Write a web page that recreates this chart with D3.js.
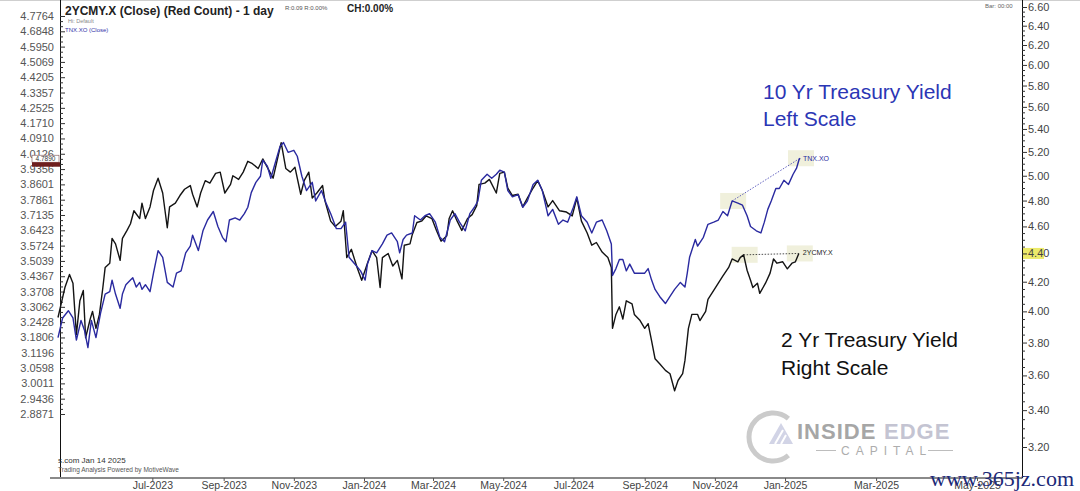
<!DOCTYPE html>
<html><head><meta charset="utf-8">
<script src="https://cdn.jsdelivr.net/npm/d3@7"></script>
<style>
body{margin:0;background:#fff}
svg{display:block;font-family:"Liberation Sans",Arial,sans-serif}
</style>
</head><body>
<svg id="chart" width="1080" height="491"></svg>
<script>
// ---------- DATA ----------
const leftTickValues = [4.7764,4.6848,4.5950,4.5069,4.4205,4.3357,4.2525,4.1710,4.0910,4.0126,3.9356,3.8601,3.7861,3.7135,3.6423,3.5724,3.5039,3.4367,3.3708,3.3062,3.2428,3.1806,3.1196,3.0598,3.0011,2.9436,2.8871];
const rightTickValues = [6.60,6.40,6.20,6.00,5.80,5.60,5.40,5.20,5.00,4.80,4.60,4.40,4.20,4.00,3.80,3.60,3.40,3.20];
const monthTicks = ["2023-07-01","2023-09-01","2023-11-01","2024-01-01","2024-03-01","2024-05-01","2024-07-01","2024-09-01","2024-11-01","2025-01-01","2025-03-01","2025-05-01"];

// 2YCMY.X (2 Yr Treasury Yield, right scale)
const twoYrDates = ["2023-04-10","2023-04-16","2023-04-20","2023-04-23","2023-04-26","2023-04-29","2023-05-02","2023-05-04","2023-05-08","2023-05-10","2023-05-13","2023-05-16","2023-05-19","2023-05-21","2023-05-25","2023-05-27","2023-05-30","2023-06-03","2023-06-05","2023-06-09","2023-06-12","2023-06-15","2023-06-20","2023-06-22","2023-06-25","2023-06-29","2023-07-02","2023-07-06","2023-07-10","2023-07-14","2023-07-16","2023-07-21","2023-07-25","2023-07-29","2023-08-03","2023-08-05","2023-08-09","2023-08-12","2023-08-16","2023-08-20","2023-08-25","2023-08-29","2023-09-02","2023-09-07","2023-09-09","2023-09-14","2023-09-18","2023-09-22","2023-09-26","2023-10-01","2023-10-05","2023-10-09","2023-10-14","2023-10-18","2023-10-21","2023-10-25","2023-10-29","2023-11-02","2023-11-07","2023-11-10","2023-11-14","2023-11-17","2023-11-21","2023-11-26","2023-11-28","2023-12-03","2023-12-07","2023-12-12","2023-12-14","2023-12-17","2023-12-21","2023-12-26","2023-12-30","2024-01-04","2024-01-08","2024-01-12","2024-01-15","2024-01-17","2024-01-22","2024-01-26","2024-01-30","2024-02-03","2024-02-05","2024-02-10","2024-02-12","2024-02-16","2024-02-20","2024-02-24","2024-02-29","2024-03-04","2024-03-08","2024-03-13","2024-03-15","2024-03-18","2024-03-22","2024-03-26","2024-03-31","2024-04-04","2024-04-08","2024-04-10","2024-04-15","2024-04-19","2024-04-25","2024-04-28","2024-05-02","2024-05-05","2024-05-09","2024-05-14","2024-05-18","2024-05-22","2024-05-27","2024-05-31","2024-06-04","2024-06-09","2024-06-13","2024-06-19","2024-06-25","2024-06-30","2024-07-04","2024-07-08","2024-07-13","2024-07-17","2024-07-21","2024-07-26","2024-07-31","2024-08-03","2024-08-04","2024-08-07","2024-08-10","2024-08-13","2024-08-16","2024-08-21","2024-08-23","2024-08-28","2024-09-01","2024-09-04","2024-09-07","2024-09-10","2024-09-14","2024-09-19","2024-09-23","2024-09-27","2024-09-30","2024-10-04","2024-10-06","2024-10-09","2024-10-12","2024-10-17","2024-10-19","2024-10-24","2024-10-26","2024-10-31","2024-11-04","2024-11-08","2024-11-13","2024-11-16","2024-11-21","2024-11-23","2024-11-26","2024-11-29","2024-12-02","2024-12-04","2024-12-08","2024-12-10","2024-12-15","2024-12-19","2024-12-22","2024-12-25","2024-12-30","2025-01-03","2025-01-07","2025-01-10","2025-01-13"];
const twoYrValues = [3.96,4.16,4.25,4.19,3.85,4.07,4.14,3.83,3.95,4.00,3.89,3.98,4.16,4.30,4.33,4.51,4.47,4.35,4.51,4.57,4.62,4.72,4.66,4.78,4.66,4.75,4.88,4.98,4.86,4.59,4.75,4.78,4.84,4.89,4.92,4.85,4.75,4.86,4.96,4.94,5.02,5.03,4.86,4.93,5.00,4.97,5.03,5.12,5.10,5.06,5.14,5.07,4.98,5.15,5.28,5.06,5.03,5.07,4.85,4.96,5.03,4.82,4.86,4.92,4.80,4.64,4.60,4.64,4.72,4.37,4.43,4.30,4.21,4.33,4.42,4.37,4.16,4.37,4.40,4.31,4.35,4.22,4.46,4.47,4.54,4.63,4.64,4.68,4.66,4.57,4.49,4.53,4.66,4.72,4.64,4.57,4.66,4.69,4.76,4.93,4.94,4.97,4.86,5.02,5.03,4.90,4.84,4.85,4.75,4.82,4.90,4.96,4.88,4.75,4.80,4.72,4.71,4.68,4.82,4.64,4.55,4.46,4.48,4.41,4.37,4.30,3.89,3.98,4.03,3.95,4.07,4.05,3.98,3.94,3.89,3.92,3.81,3.70,3.67,3.63,3.61,3.51,3.57,3.61,3.69,3.89,3.98,3.98,3.94,4.00,4.08,4.14,4.19,4.24,4.30,4.36,4.34,4.37,4.39,4.28,4.21,4.16,4.19,4.12,4.19,4.26,4.36,4.33,4.34,4.29,4.33,4.34,4.40];

// TNX.XO (10 Yr Treasury Yield, read against the left scale)
const tenYrDates = ["2023-04-10","2023-04-14","2023-04-19","2023-04-23","2023-04-26","2023-04-30","2023-05-03","2023-05-06","2023-05-09","2023-05-13","2023-05-17","2023-05-21","2023-05-25","2023-05-27","2023-05-30","2023-06-03","2023-06-05","2023-06-08","2023-06-12","2023-06-14","2023-06-17","2023-06-20","2023-06-22","2023-06-25","2023-06-29","2023-07-02","2023-07-06","2023-07-10","2023-07-14","2023-07-19","2023-07-22","2023-07-26","2023-07-30","2023-08-03","2023-08-05","2023-08-10","2023-08-14","2023-08-18","2023-08-23","2023-08-27","2023-08-31","2023-09-03","2023-09-06","2023-09-11","2023-09-15","2023-09-19","2023-09-22","2023-09-25","2023-09-29","2023-10-03","2023-10-05","2023-10-09","2023-10-12","2023-10-16","2023-10-20","2023-10-23","2023-10-27","2023-11-01","2023-11-04","2023-11-08","2023-11-12","2023-11-17","2023-11-20","2023-11-25","2023-11-29","2023-12-03","2023-12-08","2023-12-12","2023-12-16","2023-12-19","2023-12-24","2023-12-29","2024-01-02","2024-01-04","2024-01-08","2024-01-12","2024-01-17","2024-01-21","2024-01-25","2024-01-30","2024-02-01","2024-02-04","2024-02-07","2024-02-12","2024-02-14","2024-02-19","2024-02-23","2024-02-27","2024-03-03","2024-03-07","2024-03-11","2024-03-16","2024-03-20","2024-03-24","2024-03-29","2024-04-02","2024-04-06","2024-04-09","2024-04-12","2024-04-17","2024-04-21","2024-04-25","2024-04-28","2024-05-02","2024-05-05","2024-05-09","2024-05-14","2024-05-18","2024-05-22","2024-05-27","2024-05-31","2024-06-04","2024-06-09","2024-06-13","2024-06-18","2024-06-22","2024-06-26","2024-07-01","2024-07-04","2024-07-08","2024-07-13","2024-07-17","2024-07-21","2024-07-26","2024-07-30","2024-08-03","2024-08-04","2024-08-07","2024-08-10","2024-08-13","2024-08-16","2024-08-19","2024-08-23","2024-08-28","2024-09-01","2024-09-04","2024-09-07","2024-09-10","2024-09-14","2024-09-19","2024-09-23","2024-09-27","2024-10-02","2024-10-06","2024-10-08","2024-10-10","2024-10-15","2024-10-17","2024-10-22","2024-10-26","2024-10-31","2024-11-04","2024-11-08","2024-11-12","2024-11-16","2024-11-21","2024-11-25","2024-11-29","2024-12-02","2024-12-07","2024-12-11","2024-12-14","2024-12-17","2024-12-20","2024-12-24","2024-12-27","2024-12-31","2025-01-04","2025-01-08","2025-01-11","2025-01-13","2025-01-14"];
const tenYrValues = [3.18,3.26,3.29,3.26,3.17,3.25,3.21,3.14,3.25,3.18,3.28,3.36,3.37,3.42,3.36,3.30,3.36,3.40,3.42,3.43,3.39,3.41,3.38,3.40,3.37,3.45,3.55,3.52,3.41,3.39,3.45,3.46,3.54,3.57,3.62,3.55,3.64,3.69,3.73,3.66,3.61,3.59,3.69,3.70,3.69,3.72,3.75,3.82,3.87,3.90,3.98,3.95,3.89,3.97,4.05,4.07,4.02,4.03,4.00,3.90,3.83,3.87,3.78,3.83,3.77,3.72,3.65,3.65,3.68,3.52,3.49,3.46,3.42,3.49,3.55,3.54,3.58,3.62,3.63,3.59,3.54,3.60,3.62,3.63,3.71,3.69,3.71,3.72,3.68,3.61,3.59,3.69,3.72,3.68,3.64,3.72,3.75,3.78,3.88,3.91,3.89,3.91,3.93,3.92,3.83,3.80,3.81,3.75,3.78,3.86,3.88,3.83,3.71,3.74,3.67,3.69,3.68,3.75,3.80,3.71,3.68,3.63,3.68,3.69,3.64,3.58,3.44,3.47,3.51,3.51,3.46,3.49,3.45,3.45,3.45,3.47,3.42,3.38,3.35,3.32,3.35,3.38,3.41,3.39,3.45,3.52,3.60,3.57,3.61,3.67,3.68,3.69,3.73,3.71,3.78,3.77,3.76,3.71,3.66,3.64,3.63,3.68,3.74,3.78,3.84,3.84,3.88,3.86,3.91,3.94,3.98,3.99];

// trend-line annotations (start date/value, end date/value)
const tenYrTrend = [["2024-11-16",3.78],["2025-01-14",3.99]];
const twoYrTrend = [["2024-11-26",4.39],["2025-01-13",4.40]];
const lastTenYrLabel = "4.7890";

// ---------- SCALES ----------
const parse = d3.timeParse("%Y-%m-%d");
const svg = d3.select("#chart");
const AXIS_Y = 478;
const x = d3.scaleTime()
  .domain([parse("2023-04-10"), parse("2025-01-14"), parse("2025-05-01")])
  .range([58, 800, 977]);
const yL = d3.scaleLog().domain([2.8871, 4.7764]).range([414, 16]);
const yR = d3.scaleLog().domain([3.2, 6.6]).range([447, 7]);

const twoYr = twoYrDates.map((d,i)=>({date:parse(d), v:twoYrValues[i]}));
const tenYr = tenYrDates.map((d,i)=>({date:parse(d), v:tenYrValues[i]}));

svg.append("rect").attr("width",1080).attr("height",491).attr("fill","#fff");
svg.append("line").attr("x1",0).attr("x2",1080).attr("y1",0.5).attr("y2",0.5).attr("stroke","#cfcfcf");

// ---------- WATERMARK ----------
const wm = svg.append("g");
wm.append("path").attr("d","M788.4,418.6 A24,24 0 1 0 788.4,455.4")
  .attr("fill","none").attr("stroke","#cbcbcb").attr("stroke-width",5);
wm.append("path").attr("d","M769,444 L781,423 L793,444 Z").attr("fill","#d2d4e6");
wm.append("path").attr("d","M775,444 L783,430 M781,444 L786,435").attr("stroke","#fff").attr("stroke-width",2);
wm.append("text").attr("x",797).attr("y",439).attr("font-size",22).attr("font-weight","bold")
  .attr("letter-spacing",1).attr("fill","#a6a6a6").text("INSIDE");
wm.append("text").attr("x",884).attr("y",439).attr("font-size",22).attr("font-weight","bold")
  .attr("letter-spacing",1).attr("fill","#c4c4d2").text("EDGE");
wm.append("text").attr("x",841).attr("y",455).attr("font-size",12)
  .attr("letter-spacing",6).attr("fill","#adadad").text("CAPITAL");
wm.append("line").attr("x1",816).attr("x2",836).attr("y1",450.5).attr("y2",450.5).attr("stroke","#bdbdbd");
wm.append("line").attr("x1",928).attr("x2",953).attr("y1",450.5).attr("y2",450.5).attr("stroke","#bdbdbd");

// highlight behind the last 2 Yr value label on the right axis
const rvY = yR(twoYrValues[twoYrValues.length-1]);
svg.append("rect").attr("x",1023).attr("y",rvY-5.5).attr("width",21).attr("height",11).attr("fill","#ecea6a");

// ---------- AXES ----------
// left axis
const gL = svg.append("g").attr("transform","translate(60,0)");
gL.append("line").attr("x1",0.5).attr("x2",0.5).attr("y1",0).attr("y2",AXIS_Y).attr("stroke","#111");
const leftMinor = [];
for (let i=0;i<leftTickValues.length-1;i++){
  const a=Math.log(leftTickValues[i]), b=Math.log(leftTickValues[i+1]);
  for (let k=1;k<3;k++) leftMinor.push(Math.exp(a+(b-a)*k/3));
}
gL.append("g").call(d3.axisRight(yL).tickValues(leftMinor).tickSize(3).tickFormat(""))
  .call(g=>g.select(".domain").remove()).selectAll("line").attr("stroke","#333");
gL.append("g").call(d3.axisRight(yL).tickValues(leftTickValues).tickSize(5).tickFormat(""))
  .call(g=>g.select(".domain").remove()).selectAll("line").attr("stroke","#333");
gL.append("g").call(d3.axisLeft(yL).tickValues(leftTickValues).tickSize(0).tickPadding(6).tickFormat(d3.format(".4f")))
  .call(g=>g.select(".domain").remove())
  .selectAll("text").attr("font-size",11).attr("fill","#555").attr("font-family","'Liberation Sans',Arial,sans-serif");

// right axis
const gR = svg.append("g").attr("transform","translate(1022,0)");
gR.append("line").attr("x1",0.5).attr("x2",0.5).attr("y1",0).attr("y2",AXIS_Y).attr("stroke","#111");
const rightMinor = [];
for (let i=0;i<rightTickValues.length-1;i++){
  for (let k=1;k<4;k++) rightMinor.push(rightTickValues[i]-(rightTickValues[i]-rightTickValues[i+1])*k/4);
}
gR.append("g").call(d3.axisRight(yR).tickValues(rightMinor).tickSize(3).tickFormat(""))
  .call(g=>g.select(".domain").remove()).selectAll("line").attr("stroke","#333");
gR.append("g").call(d3.axisRight(yR).tickValues(rightTickValues).tickSize(5).tickPadding(1).tickFormat(d3.format(".2f")))
  .call(g=>g.select(".domain").remove())
  .call(g=>g.selectAll("line").attr("stroke","#333"))
  .selectAll("text").attr("font-size",11).attr("fill","#444").attr("font-family","'Liberation Sans',Arial,sans-serif");

// bottom axis
const gB = svg.append("g").attr("transform",`translate(0,${AXIS_Y})`);
gB.append("line").attr("x1",50).attr("x2",1022).attr("y1",0).attr("y2",0).attr("stroke","#8a8a8a").attr("stroke-width",2);
gB.append("g").call(d3.axisBottom(x).tickValues(monthTicks.map(parse)).tickSize(3).tickPadding(1).tickFormat(d3.timeFormat("%b-%Y")))
  .call(g=>g.select(".domain").remove())
  .call(g=>g.selectAll("line").attr("stroke","#555"))
  .selectAll("text").attr("font-size",10.5).attr("fill","#444").attr("font-family","'Liberation Sans',Arial,sans-serif");

// ---------- TREND HIGHLIGHTS ----------
function hl(pt, yScale){
  svg.append("rect").attr("x",x(parse(pt[0]))-12).attr("y",yScale(pt[1])-8)
    .attr("width",26).attr("height",16).attr("fill","#e6e6c4").attr("opacity",0.6);
}
hl(tenYrTrend[0], yL); hl(tenYrTrend[1], yL);
hl(twoYrTrend[0], yR); hl(twoYrTrend[1], yR);

// ---------- LINES ----------
const lineR = d3.line().x(d=>x(d.date)).y(d=>yR(d.v));
const lineL = d3.line().x(d=>x(d.date)).y(d=>yL(d.v));
svg.append("path").datum(twoYr).attr("d",lineR).attr("fill","none").attr("stroke","#141414").attr("stroke-width",1.4).attr("stroke-linejoin","round");
svg.append("path").datum(tenYr).attr("d",lineL).attr("fill","none").attr("stroke","#2a2aa0").attr("stroke-width",1.4).attr("stroke-linejoin","round");

svg.append("line")
  .attr("x1",x(parse(tenYrTrend[0][0]))).attr("y1",yL(tenYrTrend[0][1]))
  .attr("x2",x(parse(tenYrTrend[1][0]))).attr("y2",yL(tenYrTrend[1][1]))
  .attr("stroke","#3a3ab0").attr("stroke-width",0.8).attr("stroke-dasharray","1.5,1.5");
svg.append("line")
  .attr("x1",x(parse(twoYrTrend[0][0]))).attr("y1",yR(twoYrTrend[0][1]))
  .attr("x2",x(parse(twoYrTrend[1][0]))).attr("y2",yR(twoYrTrend[1][1]))
  .attr("stroke","#222").attr("stroke-width",0.8).attr("stroke-dasharray","1.5,1.5");

svg.append("text").attr("x",x(parse(tenYrTrend[1][0]))+3).attr("y",yL(tenYrTrend[1][1])+3)
  .attr("font-size",7).attr("fill","#2a2aa0").text("TNX.XO");
svg.append("text").attr("x",x(parse(twoYrTrend[1][0]))+4).attr("y",yR(twoYrTrend[1][1])+2)
  .attr("font-size",7).attr("fill","#222").text("2YCMY.X");

// last-value marker on the left axis
const lvY = yL(tenYrValues[tenYrValues.length-1]);
svg.append("rect").attr("x",32).attr("y",lvY-3).attr("width",27).attr("height",7).attr("fill","#fff").attr("stroke","#7a5050").attr("stroke-width",0.6);
svg.append("text").attr("x",45.5).attr("y",lvY+3).attr("text-anchor","middle").attr("font-size",6.5).attr("fill","#333").text(lastTenYrLabel);
svg.append("rect").attr("x",32).attr("y",lvY+4).attr("width",28).attr("height",4.5).attr("fill","#6e1e1e");

// ---------- HEADER ----------
svg.append("text").attr("x",65).attr("y",15).attr("font-size",12).attr("font-weight","bold").attr("fill","#222")
  .text("2YCMY.X (Close) (Red Count) - 1 day");
svg.append("text").attr("x",68).attr("y",23).attr("font-size",5.5).attr("fill","#888").text("Hi: Default");
svg.append("text").attr("x",65).attr("y",32).attr("font-size",6).attr("fill","#3333aa").text("TNX.XO (Close)");
svg.append("text").attr("x",285).attr("y",10).attr("font-size",6).attr("fill","#555").text("R:0.09  R:0.00%");
svg.append("text").attr("x",347).attr("y",12).attr("font-size",10).attr("font-weight","bold").attr("fill","#222").text("CH:0.00%");
svg.append("text").attr("x",985).attr("y",8).attr("font-size",6).attr("fill","#666").text("Bar: 00:00");

// footer
svg.append("text").attr("x",58).attr("y",463).attr("font-size",8).attr("fill","#333").text("s.com Jan 14 2025");
svg.append("text").attr("x",58).attr("y",471.5).attr("font-size",6.5).attr("fill","#555").text("Trading Analysis Powered by MotiveWave");

// ---------- ANNOTATIONS ----------
svg.append("text").attr("x",763).attr("y",99).attr("font-size",21).attr("fill","#2b36b5").text("10 Yr Treasury Yield");
svg.append("text").attr("x",763).attr("y",126).attr("font-size",21).attr("fill","#2b36b5").text("Left Scale");
svg.append("text").attr("x",781).attr("y",347).attr("font-size",21).attr("fill","#111").text("2 Yr Treasury Yield");
svg.append("text").attr("x",781).attr("y",375).attr("font-size",21).attr("fill","#111").text("Right Scale");

// site watermark
svg.append("text").attr("x",930).attr("y",486).attr("font-size",22).attr("font-family","'Liberation Serif','Times New Roman',serif")
  .attr("fill","#1c2a78").text("www.365jz.com");
</script>
</body></html>
